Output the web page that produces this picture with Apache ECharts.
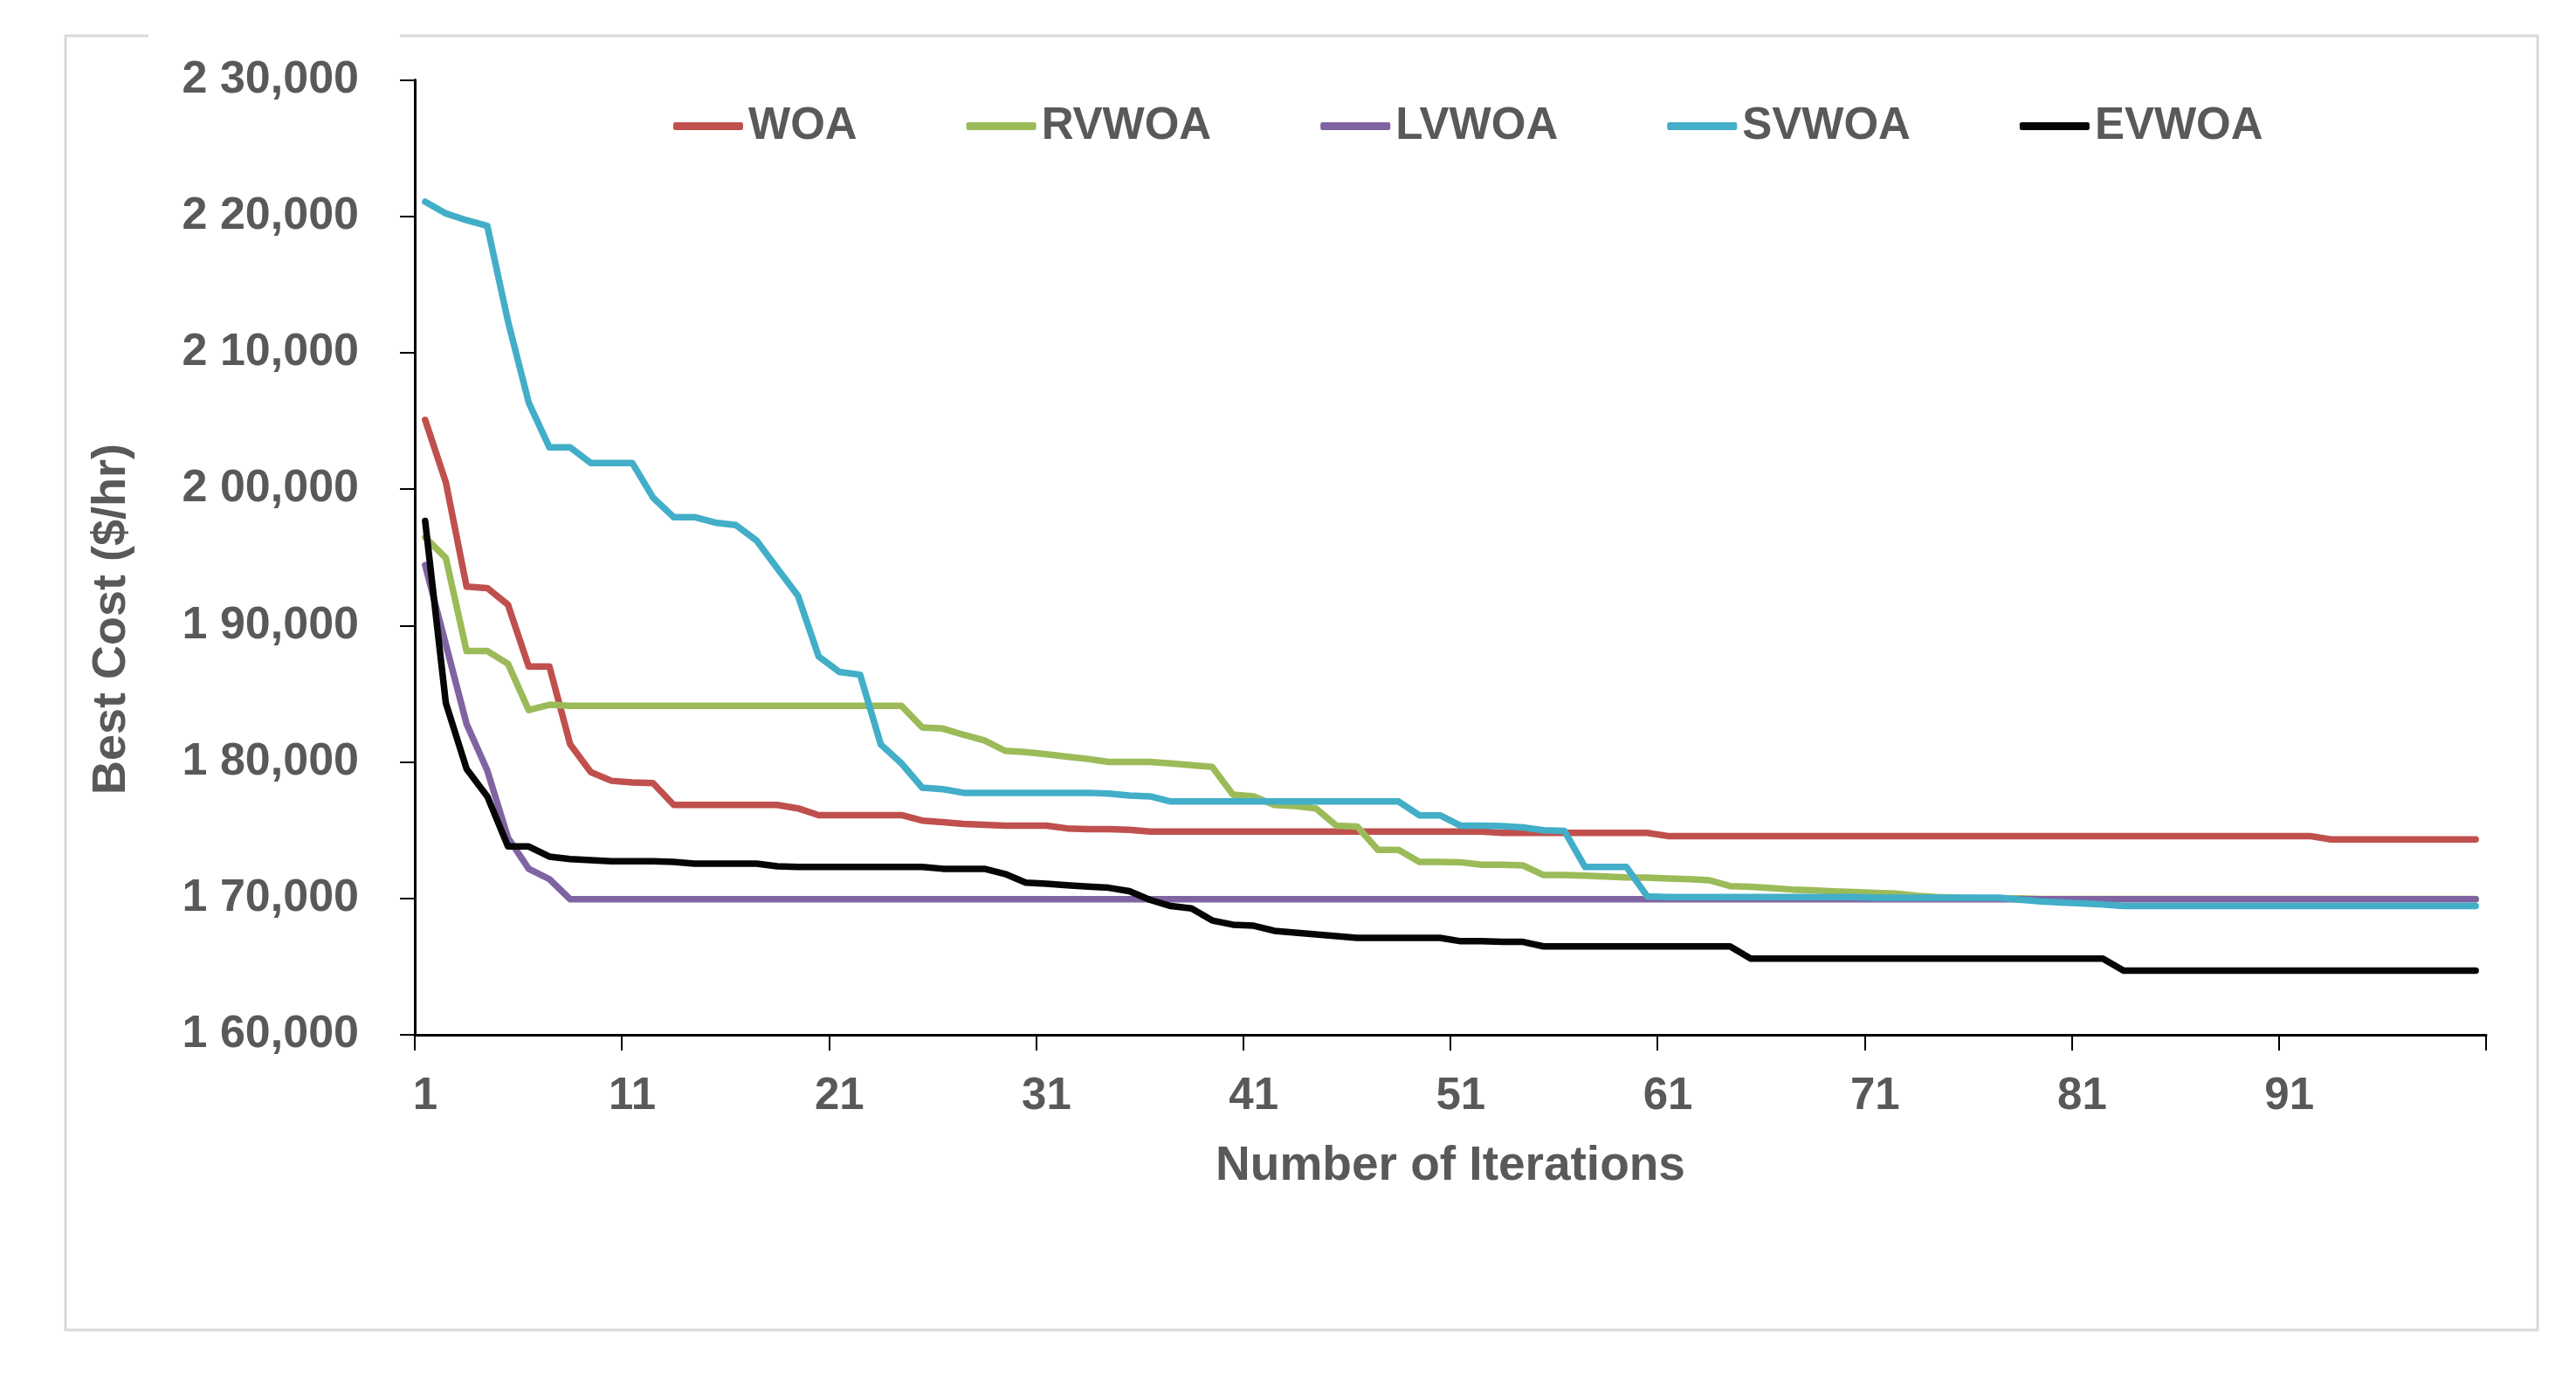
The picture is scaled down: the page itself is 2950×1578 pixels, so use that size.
<!DOCTYPE html>
<html>
<head>
<meta charset="utf-8">
<script src="https://cdn.jsdelivr.net/npm/echarts@6/dist/echarts.min.js"></script>
<style>
html,body{margin:0;padding:0;background:#fff;}
#chart{width:2950px;height:1578px;}
</style>
</head>
<body>
<div id="chart"></div>
<script>
const iterations = Array.from({length: 100}, (_, i) => String(i + 1));
const yTickValues = [160000, 170000, 180000, 190000, 200000, 210000, 220000, 230000];
const yTickLabels = ['1 60,000', '1 70,000', '1 80,000', '1 90,000', '2 00,000', '2 10,000', '2 20,000', '2 30,000'];
const seriesNames = ['WOA', 'RVWOA', 'LVWOA', 'SVWOA', 'EVWOA'];
const yAxisTitle = 'Best Cost ($/hr)';
const xAxisTitle = 'Number of Iterations';

const woa = [
  205080, 200500, 192850, 192750, 191530, 187000, 187000, 181300, 179250, 178620,
  178500, 178450, 176850, 176850, 176850, 176850, 176850, 176850, 176600, 176100,
  176100, 176100, 176100, 176100, 175700, 175590, 175460, 175400, 175330, 175330,
  175330, 175130, 175080, 175080, 175030, 174900, 174900, 174900, 174900, 174900,
  174900, 174900, 174900, 174900, 174900, 174900, 174900, 174900, 174900, 174900,
  174900, 174900, 174800, 174800, 174800, 174800, 174800, 174800, 174800, 174800,
  174570, 174570, 174570, 174570, 174570, 174570, 174570, 174570, 174570, 174570,
  174570, 174570, 174570, 174570, 174570, 174570, 174570, 174570, 174570, 174570,
  174570, 174570, 174570, 174570, 174570, 174570, 174570, 174570, 174570, 174570,
  174570, 174570, 174320, 174320, 174320, 174320, 174320, 174320, 174320, 174320
];
const rvwoa = [
  196460, 194950, 188130, 188130, 187200, 183800, 184190, 184110, 184110, 184110,
  184110, 184110, 184110, 184110, 184110, 184110, 184110, 184110, 184110, 184110,
  184110, 184110, 184110, 184110, 182540, 182450, 181990, 181580, 180820, 180720,
  180570, 180390, 180220, 180010, 180010, 180010, 179890, 179760, 179630, 177610,
  177480, 176850, 176770, 176600, 175330, 175260, 173560, 173560, 172680, 172680,
  172650, 172470, 172470, 172420, 171710, 171710, 171660, 171610, 171540, 171520,
  171460, 171410, 171330, 170900, 170850, 170750, 170650, 170600, 170520, 170470,
  170400, 170350, 170200, 170100, 170050, 170000, 170000, 170000, 169950, 169950,
  169950, 169950, 169950, 169950, 169950, 169950, 169950, 169950, 169950, 169950,
  169950, 169950, 169950, 169950, 169950, 169950, 169950, 169950, 169950, 169950
];
const lvwoa = [
  194430, 188610, 182790, 179380, 174450, 172170, 171410, 169940, 169940, 169940,
  169940, 169940, 169940, 169940, 169940, 169940, 169940, 169940, 169940, 169940,
  169940, 169940, 169940, 169940, 169940, 169940, 169940, 169940, 169940, 169940,
  169940, 169940, 169940, 169940, 169940, 169940, 169940, 169940, 169940, 169940,
  169940, 169940, 169940, 169940, 169940, 169940, 169940, 169940, 169940, 169940,
  169940, 169940, 169940, 169940, 169940, 169940, 169940, 169940, 169940, 169940,
  169940, 169940, 169940, 169940, 169940, 169940, 169940, 169940, 169940, 169940,
  169940, 169940, 169940, 169940, 169940, 169940, 169940, 169940, 169940, 169940,
  169940, 169940, 169940, 169940, 169940, 169940, 169940, 169940, 169940, 169940,
  169940, 169940, 169940, 169940, 169940, 169940, 169940, 169940, 169940, 169940
];
const svwoa = [
  221070, 220210, 219710, 219300, 212300, 206350, 203060, 203060, 201920, 201920,
  201920, 199390, 197950, 197950, 197545, 197370, 196230, 194200, 192180, 187740,
  186600, 186400, 181280, 179890, 178120, 178000, 177740, 177740, 177740, 177740,
  177740, 177740, 177740, 177690, 177540, 177480, 177100, 177100, 177100, 177100,
  177100, 177100, 177100, 177100, 177100, 177100, 177100, 177100, 176090, 176090,
  175330, 175330, 175300, 175200, 175000, 174950, 172300, 172300, 172300, 170150,
  170100, 170100, 170100, 170100, 170100, 170100, 170100, 170100, 170100, 170100,
  170050, 170050, 170050, 170050, 170050, 170050, 170050, 169900, 169780, 169700,
  169640, 169560, 169440, 169440, 169440, 169440, 169440, 169440, 169440, 169440,
  169440, 169440, 169440, 169440, 169440, 169440, 169440, 169440, 169440, 169440
];
const evwoa = [
  197670, 184310, 179500, 177480, 173810, 173810, 173060, 172880, 172800, 172730,
  172730, 172730, 172680, 172550, 172550, 172550, 172550, 172350, 172300, 172300,
  172300, 172300, 172300, 172300, 172300, 172170, 172170, 172170, 171790, 171160,
  171080, 170960, 170860, 170780, 170530, 169890, 169440, 169260, 168380, 168070,
  168000, 167620, 167490, 167360, 167240, 167110, 167110, 167110, 167110, 167110,
  166860, 166860, 166810, 166810, 166480, 166480, 166480, 166480, 166480, 166480,
  166480, 166480, 166480, 166480, 165590, 165590, 165590, 165590, 165590, 165590,
  165590, 165590, 165590, 165590, 165590, 165590, 165590, 165590, 165590, 165590,
  165590, 165590, 164700, 164700, 164700, 164700, 164700, 164700, 164700, 164700,
  164700, 164700, 164700, 164700, 164700, 164700, 164700, 164700, 164700, 164700
];

const seriesData = [woa, rvwoa, lvwoa, svwoa, evwoa];
const colors = ['#C0504D', '#9BBB59', '#8064A2', '#42AEC8', '#050505'];

const FONT = '"Liberation Sans", Arial, sans-serif';
const TEXT = '#595959';

const chart = echarts.init(document.getElementById('chart'), null, {renderer: 'canvas'});
const option = {
  backgroundColor: '#ffffff',
  animation: false,
  color: colors,
  graphic: [
    {type: 'rect', shape: {x: 75, y: 41, width: 2831, height: 1482},
     style: {fill: 'none', stroke: '#d9d9d9', lineWidth: 3}, z: -10},
    {type: 'rect', shape: {x: 170, y: 34, width: 288, height: 14},
     style: {fill: '#ffffff', stroke: 'none'}, z: -9},
    {type: 'text', x: 128, y: 709, rotation: Math.PI / 2,
     style: {text: yAxisTitle, fontFamily: FONT, fontSize: 54, fontWeight: 'bold', fill: TEXT,
             align: 'center', verticalAlign: 'middle'}}
  ],
  legend: {
    left: 766,
    top: 114,
    itemWidth: 80,
    itemHeight: 9,
    itemGap: 125,
    icon: 'roundRect',
    data: seriesNames,
    textStyle: {fontFamily: FONT, fontSize: 51, fontWeight: 'bold', color: TEXT, padding: [0, 0, 0, 1]}
  },
  grid: {left: 475, right: 103, top: 91.5, bottom: 393, containLabel: false},
  xAxis: {
    type: 'category',
    data: iterations,
    boundaryGap: true,
    name: xAxisTitle,
    nameLocation: 'middle',
    nameGap: 123,
    nameTextStyle: {fontFamily: FONT, fontSize: 55, fontWeight: 'bold', color: TEXT},
    axisLine: {show: true, lineStyle: {color: '#000', width: 3}},
    axisTick: {show: true, interval: 9, length: 18, inside: false, lineStyle: {color: '#000', width: 2}},
    axisLabel: {interval: 9, margin: 45, fontFamily: FONT, fontSize: 51, fontWeight: 'bold', color: TEXT},
    splitLine: {show: false}
  },
  yAxis: {
    type: 'value',
    min: 160000,
    max: 230000,
    interval: 10000,
    axisLine: {show: true, lineStyle: {color: '#000', width: 3}},
    axisTick: {show: true, length: 17, inside: false, lineStyle: {color: '#000', width: 2}},
    axisLabel: {
      margin: 64,
      fontFamily: FONT, fontSize: 52, fontWeight: 'bold', color: TEXT,
      formatter: function (v) {
        const idx = yTickValues.indexOf(v);
        return idx >= 0 ? yTickLabels[idx] : '';
      }
    },
    splitLine: {show: false}
  },
  series: seriesNames.map((name, k) => ({
    name: name,
    type: 'line',
    data: seriesData[k],
    symbol: 'none',
    showSymbol: false,
    smooth: false,
    lineStyle: {width: 7.5, color: colors[k], join: 'round', cap: 'round'},
    itemStyle: {color: colors[k]},
    z: 2 + k
  }))
};
chart.setOption(option);
</script>
</body>
</html>
